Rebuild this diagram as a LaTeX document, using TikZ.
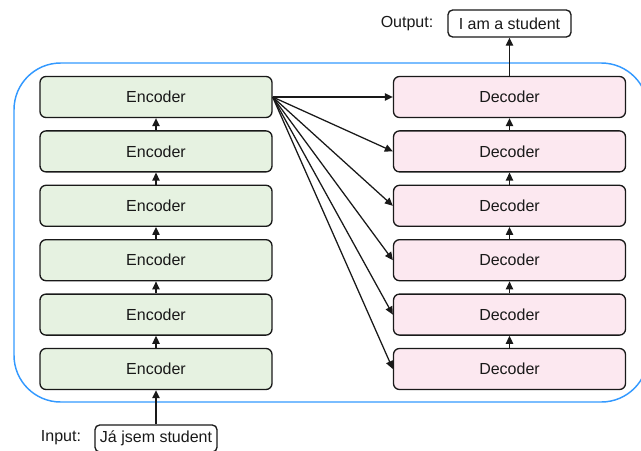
\documentclass[tikz,border=0pt]{standalone}
\usepackage{fontspec}
\setmainfont{Liberation Sans}
\usetikzlibrary{arrows.meta}
\definecolor{encfill}{RGB}{230,242,225}
\definecolor{decfill}{RGB}{252,232,240}
\definecolor{frameblue}{RGB}{51,153,255}
\definecolor{ink}{RGB}{25,25,25}
\begin{document}
\begin{tikzpicture}[x=0.75pt,y=-0.75pt,
  font=\fontsize{12}{14}\selectfont,
  block/.style={draw=ink, line width=1pt, rounded corners=4.5pt,
    minimum width=174pt, minimum height=30.75pt, inner sep=0pt, text=ink},
  enc/.style={block, fill=encfill},
  dec/.style={block, fill=decfill},
  tag/.style={draw=ink, line width=1pt, rounded corners=3.5pt, fill=white,
    inner sep=0pt, minimum height=20.25pt, text=ink},
  plain/.style={text=ink, inner sep=0pt},
  link/.style={-{Triangle[length=6pt,width=5.5pt]}, line width=0.95pt, draw=ink}]
\useasboundingbox (0,0) rectangle (641,450);
\clip (0,0) rectangle (641,450);

% outer frame around both stacks
\draw[frameblue, line width=1.1pt, rounded corners=35pt] (14,63) rectangle (648,402);

% encoder and decoder stacks (1 = top, 6 = bottom)
\foreach \i in {1,...,6} {
  \pgfmathsetmacro{\yy}{97+(\i-1)*54.4}
  \node[enc] (enc\i) at (156,\yy) {Encoder};
  \node[dec] (dec\i) at (509.5,\yy) {Decoder};
}

% input and output
\node[tag, minimum width=91.5pt] (inp) at (156,438.5) {Já jsem student};
\node[plain] (inplab) at (61,437.5) {Input:};
\node[tag, minimum width=92.25pt] (outp) at (509.5,23.5) {I am a student};
\node[plain] (outlab) at (407,23.5) {Output:};

% vertical flow
\draw[link] (inp.north) -- (enc6.south);
\draw[link] (dec1.north) -- (outp.south);
\foreach \i/\j in {6/5,5/4,4/3,3/2,2/1} {
  \draw[link] (enc\i.north) -- (enc\j.south);
  \draw[link] (dec\i.north) -- (dec\j.south);
}

% top encoder feeds every decoder
\foreach \i in {1,...,6} {
  \draw[link] (enc1.east) -- (dec\i.west);
}
\end{tikzpicture}
\end{document}
